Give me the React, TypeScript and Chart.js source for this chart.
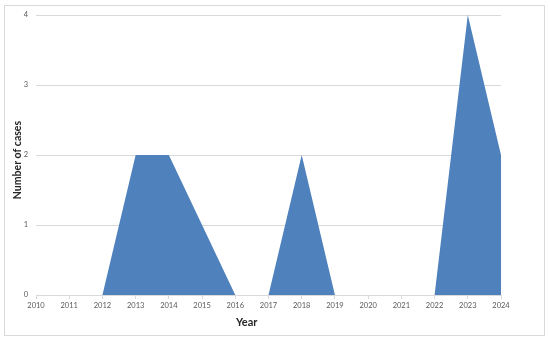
import React, { useEffect, useRef } from "react";
import { Chart, registerables } from "chart.js";

Chart.register(...registerables);

const years = ["2010","2011","2012","2013","2014","2015","2016","2017","2018","2019","2020","2021","2022","2023","2024"];
const cases = [0, 0, 0, 2, 2, 1, 0, 0, 2, 0, 0, 0, 0, 4, 2];
const xTitle = "Year";
const yTitle = "Number of cases";

const FONT = "Lato, 'Liberation Sans', sans-serif";

const titlesPlugin = {
  id: "axisTitles",
  afterDraw(chart: any) {
    const ctx = chart.ctx;
    const area = chart.chartArea;
    ctx.save();
    ctx.fillStyle = "#262626";
    ctx.textAlign = "center";
    ctx.textBaseline = "middle";
    ctx.font = `bold 11px ${FONT}`;
    ctx.fillText(xTitle, area.left + (area.right - area.left) * 0.453, 322);
    ctx.translate(18, area.top + (area.bottom - area.top) * 0.518);
    ctx.rotate(-Math.PI / 2);
    ctx.font = `bold 10.5px ${FONT}`;
    ctx.fillText(yTitle, 0, 0);
    ctx.restore();
  },
};

export default function App() {
  const ref = useRef<HTMLCanvasElement | null>(null);
  useEffect(() => {
    if (!ref.current) return;
    const chart = new Chart(ref.current, {
      type: "line",
      data: {
        labels: years,
        datasets: [{
          data: cases,
          fill: "origin",
          backgroundColor: "#4F81BD",
          borderColor: "#4F81BD",
          borderWidth: 0,
          pointRadius: 0,
          tension: 0,
        }],
      },
      options: {
        animation: false,
        responsive: false,
        maintainAspectRatio: false,
        layout: { padding: { top: 15, right: 49, left: 0, bottom: 0 } },
        plugins: { legend: { display: false }, tooltip: { enabled: false } },
        scales: {
          x: {
            type: "category",
            offset: false,
            grid: { drawOnChartArea: false, drawTicks: true, tickLength: 4, color: "#d9d9d9" },
            border: { display: true, color: "#d9d9d9" },
            ticks: { color: "#595959", font: { family: FONT, size: 7.5 }, padding: 2, maxRotation: 0, autoSkip: false },
            afterFit: (s: any) => { s.height = 46; },
          },
          y: {
            min: 0,
            max: 4,
            grid: { color: "#d9d9d9", drawTicks: false },
            border: { display: false },
            ticks: { stepSize: 1, color: "#595959", font: { family: FONT, size: 7.5 }, padding: 8 },
            afterFit: (s: any) => { s.width = 36; },
          },
        },
      },
      plugins: [titlesPlugin],
    });
    return () => chart.destroy();
  }, []);
  return (
    <div style={{ position: "absolute", left: 0, top: 0, width: 550, height: 341, background: "#fff" }}>
      <div style={{ position: "absolute", left: 4, top: 5, width: 541, height: 331, border: "1px solid #d9d9d9", boxSizing: "border-box" }} />
      <canvas ref={ref} width={550} height={341} style={{ position: "absolute", left: 0, top: 0, width: 550, height: 341 }} />
    </div>
  );
}
